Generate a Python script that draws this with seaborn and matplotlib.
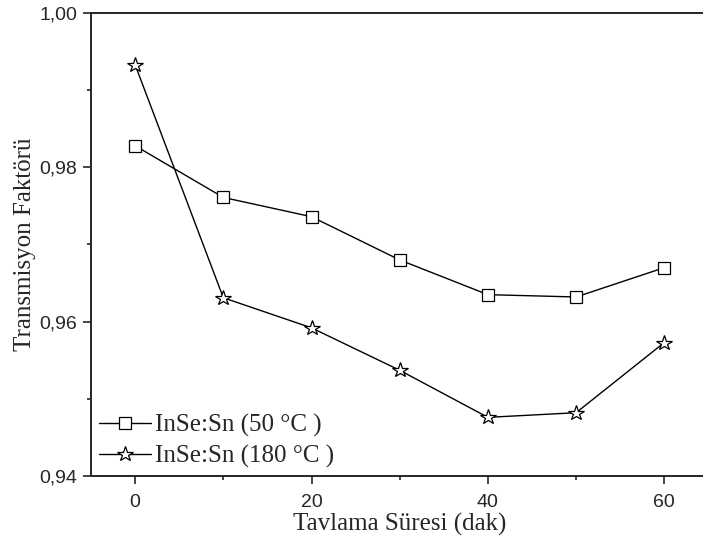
import matplotlib
matplotlib.use("Agg")
import matplotlib.pyplot as plt
import seaborn as sns
import pandas as pd
from matplotlib.ticker import MultipleLocator, FuncFormatter

sns.set_style("ticks")
plt.rcParams['font.family'] = ['Liberation Sans', 'DejaVu Sans']

time_min = [0, 10, 20, 30, 40, 50, 60]
s50 = [0.9828, 0.9761, 0.9736, 0.9680, 0.9635, 0.9632, 0.9670]
s180 = [0.9933, 0.9631, 0.9592, 0.9537, 0.9476, 0.9482, 0.9573]
labels = ["InSe:Sn (50 \u00b0C )", "InSe:Sn (180 \u00b0C )"]

df = pd.concat([
    pd.DataFrame({"t": time_min, "v": s50, "s": labels[0]}),
    pd.DataFrame({"t": time_min, "v": s180, "s": labels[1]}),
])

fig = plt.figure(figsize=(7.03, 5.45), dpi=100)
ax = fig.add_axes([91/703, 1-476/545, 617.4/703, 463/545])

markers = {labels[0]: 's', labels[1]: '*'}
msize = {labels[0]: 9, labels[1]: 11.5}
for lab in labels:
    sub = df[df.s == lab]
    sns.lineplot(data=sub, x="t", y="v", ax=ax, color='black', lw=1.0,
                 marker=markers[lab], markersize=msize[lab],
                 markerfacecolor='white', markeredgecolor='black',
                 markeredgewidth=0.9, label=lab, legend=False)

ax.set_xlim(-5, 65)
ax.set_ylim(0.94, 1.00)
ax.xaxis.set_major_locator(MultipleLocator(20))
ax.xaxis.set_minor_locator(MultipleLocator(10))
ax.yaxis.set_major_locator(MultipleLocator(0.02))
ax.yaxis.set_minor_locator(MultipleLocator(0.01))
ax.yaxis.set_major_formatter(FuncFormatter(lambda v, p: f"{v:.2f}".replace('.', ',')))

for sp in ['left', 'bottom', 'top']:
    ax.spines[sp].set_linewidth(1.4)
ax.spines['right'].set_visible(False)
ax.tick_params(which='major', length=6, width=1.2, direction='out', labelsize=14,
               top=False, right=False, pad=4)
ax.tick_params(axis='x', which='major', pad=7)
ax.tick_params(which='minor', length=3, width=1.2, direction='out', top=False, right=False)

serif = ['Liberation Serif', 'DejaVu Serif']
ax.set_xlabel("Tavlama S\u00fcresi (dak)", family=serif, fontsize=18, labelpad=1)
ax.set_ylabel("Transmisyon Fakt\u00f6r\u00fc", family=serif, fontsize=18, labelpad=2)

leg = ax.legend(loc='lower left', frameon=False, prop={'family': serif, 'size': 18},
                handlelength=2.1, handletextpad=0.15, borderaxespad=0.1,
                labelspacing=0.32, borderpad=0.2, numpoints=1)

fig.savefig("out.png", dpi=100)
